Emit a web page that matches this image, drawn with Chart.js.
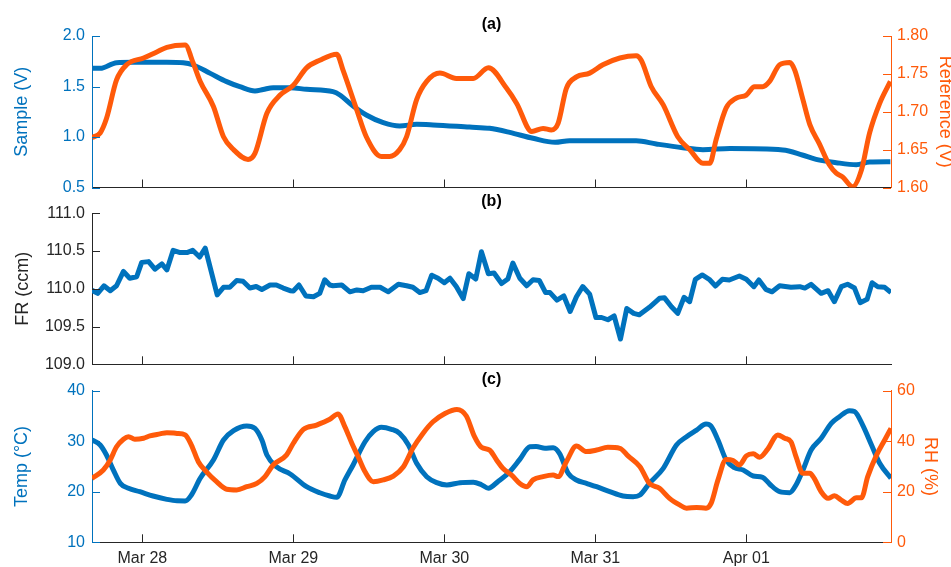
<!DOCTYPE html>
<html>
<head>
<meta charset="utf-8">
<script src="https://cdn.jsdelivr.net/npm/chart.js@4/dist/chart.umd.min.js"></script>
<style>
  html, body { margin: 0; padding: 0; background: #fff; }
  #wrap { position: relative; width: 951px; height: 567px; overflow: hidden; }
  #wrap canvas { position: absolute; left: 0; top: 0; }
</style>
</head>
<body>
<div id="wrap">
  <canvas id="panelA" width="951" height="567"></canvas>
  <canvas id="panelB" width="951" height="567"></canvas>
  <canvas id="panelC" width="951" height="567"></canvas>
</div>
<script>
// Time axis: hours since Mar 28 00:00
const tickHours = [0, 24, 48, 72, 96];
const tickLabels = ['Mar 28', 'Mar 29', 'Mar 30', 'Mar 31', 'Apr 01'];

// (a) sample and reference voltages
const sampleHours = [-8.0, -6.7, -4.1, -1.5, 3.9, 6.5, 8.1, 10.8, 13.4, 15.5, 17.9, 19.2, 20.8, 23.5, 26.1, 30.3, 31.4, 33.5, 35.6, 38.3, 40.9, 43.6, 46.2, 52.0, 55.2, 58.4, 62.1, 65.6, 67.9, 78.5, 81.7, 85.9, 89.1, 93.4, 101.8, 104.9, 107.1, 110.3, 113.5, 115.6, 118.9];
const sampleV = [1.68, 1.68, 1.736, 1.74, 1.74, 1.735, 1.713, 1.63, 1.548, 1.498, 1.455, 1.47, 1.488, 1.488, 1.472, 1.449, 1.416, 1.307, 1.218, 1.142, 1.109, 1.126, 1.12, 1.098, 1.086, 1.046, 0.987, 0.947, 0.963, 0.963, 0.931, 0.894, 0.875, 0.885, 0.871, 0.822, 0.779, 0.746, 0.726, 0.752, 0.755];

const refHours = [-8.0, -6.7, -5.7, -4.1, -2.5, 0.2, 2.3, 3.9, 6.8, 8.1, 9.2, 11.3, 12.9, 14.5, 16.8, 17.9, 19.8, 21.9, 24.0, 26.1, 28.2, 30.9, 31.9, 34.1, 35.6, 38.0, 39.3, 40.9, 42.0, 43.6, 45.2, 47.3, 49.9, 52.6, 55.0, 57.9, 59.5, 61.9, 63.7, 65.0, 66.1, 67.4, 69.0, 71.1, 73.2, 75.9, 78.5, 79.3, 80.9, 82.8, 85.1, 87.0, 89.1, 90.2, 91.2, 92.8, 94.4, 96.0, 97.3, 98.6, 99.7, 101.3, 102.9, 103.7, 105.0, 106.1, 107.6, 109.2, 110.3, 111.3, 112.9, 114.3, 115.6, 117.2, 118.9];
const refV = [1.666, 1.672, 1.691, 1.742, 1.762, 1.771, 1.779, 1.785, 1.788, 1.764, 1.740, 1.707, 1.667, 1.650, 1.637, 1.645, 1.698, 1.722, 1.735, 1.758, 1.768, 1.776, 1.755, 1.702, 1.667, 1.641, 1.641, 1.650, 1.667, 1.716, 1.740, 1.751, 1.744, 1.744, 1.758, 1.731, 1.711, 1.674, 1.678, 1.676, 1.685, 1.731, 1.746, 1.751, 1.762, 1.771, 1.774, 1.768, 1.733, 1.709, 1.667, 1.650, 1.632, 1.632, 1.663, 1.705, 1.718, 1.722, 1.733, 1.733, 1.740, 1.762, 1.765, 1.755, 1.716, 1.683, 1.658, 1.630, 1.619, 1.614, 1.601, 1.623, 1.672, 1.711, 1.740];

// (b) flow rate
const flowHours = [-8.0, -7.1, -6.1, -5.1, -4.1, -3.0, -2.0, -0.9, -0.1, 1.0, 2.0, 3.1, 3.9, 4.9, 6.0, 7.1, 8.0, 9.1, 10.0, 11.9, 12.9, 13.9, 15.0, 16.0, 17.1, 18.1, 19.0, 20.3, 21.3, 22.4, 23.5, 24.0, 24.9, 26.0, 27.2, 28.2, 29.0, 29.8, 30.3, 31.7, 33.0, 34.1, 35.1, 36.4, 37.8, 39.1, 40.7, 42.0, 43.0, 44.1, 45.1, 46.0, 47.0, 48.0, 48.9, 49.9, 51.0, 51.9, 53.0, 53.9, 55.0, 55.9, 57.1, 58.1, 58.9, 60.0, 61.1, 62.1, 63.1, 64.1, 64.8, 65.9, 67.0, 68.0, 69.0, 70.0, 71.1, 72.1, 73.0, 74.0, 75.0, 76.0, 77.0, 78.1, 79.0, 80.6, 82.2, 83.0, 84.1, 85.1, 86.1, 87.0, 87.9, 89.0, 90.1, 91.1, 92.2, 93.3, 94.9, 96.0, 97.2, 98.0, 99.1, 100.1, 101.3, 103.1, 104.5, 105.3, 106.3, 107.9, 109.0, 110.0, 111.1, 112.1, 113.2, 114.1, 115.2, 116.0, 116.9, 118.0, 119.0];
const flowCcm = [109.98, 109.94, 110.04, 109.975, 110.04, 110.23, 110.14, 110.16, 110.35, 110.36, 110.26, 110.33, 110.25, 110.51, 110.48, 110.48, 110.51, 110.42, 110.54, 109.92, 110.02, 110.02, 110.11, 110.10, 110.01, 110.03, 109.99, 110.05, 110.05, 110.01, 109.975, 109.97, 110.05, 109.905, 109.895, 109.94, 110.12, 110.05, 110.04, 110.05, 109.96, 109.985, 109.975, 110.02, 110.02, 109.96, 110.06, 110.04, 110.02, 109.95, 109.975, 110.18, 110.14, 110.08, 110.14, 110.03, 109.87, 110.2, 110.13, 110.49, 110.2, 110.21, 110.07, 110.13, 110.34, 110.14, 110.04, 110.12, 110.11, 109.95, 109.95, 109.85, 109.905, 109.70, 109.895, 110.03, 109.93, 109.62, 109.62, 109.59, 109.64, 109.335, 109.74, 109.675, 109.655, 109.755, 109.874, 109.88, 109.763, 109.675, 109.887, 109.83, 110.126, 110.183, 110.126, 110.037, 110.126, 110.117, 110.17, 110.126, 110.028, 110.117, 109.993, 109.96, 110.04, 110.02, 110.028, 110.01, 110.06, 109.94, 109.975, 109.83, 110.028, 110.06, 110.01, 109.816, 109.86, 110.08, 110.028, 110.02, 109.95];

// (c) temperature and relative humidity
const tempHours = [-8.0, -6.7, -5.7, -4.6, -3.5, -2.2, -0.4, 1.7, 3.9, 5.5, 6.8, 7.8, 9.2, 11.3, 12.9, 14.5, 16.6, 17.9, 19.0, 19.8, 21.3, 23.5, 26.1, 28.2, 29.8, 30.9, 32.2, 33.5, 35.4, 36.7, 38.0, 39.6, 40.9, 42.3, 43.6, 45.2, 46.8, 48.4, 50.5, 52.6, 53.9, 55.0, 56.5, 58.4, 60.0, 61.6, 62.6, 64.0, 65.3, 66.3, 67.7, 69.0, 70.6, 72.2, 74.3, 76.4, 78.0, 79.1, 80.6, 82.8, 84.9, 86.5, 88.1, 89.6, 90.4, 91.5, 92.8, 94.1, 95.5, 97.1, 98.6, 99.7, 101.3, 102.9, 103.9, 105.0, 106.3, 107.9, 109.5, 110.8, 112.4, 113.2, 114.5, 115.9, 117.2, 119.0];
const tempC = [30.25, 29.26, 27.28, 24.3, 21.67, 20.69, 20.02, 19.16, 18.5, 18.2, 18.17, 19.36, 22.67, 26.29, 30.25, 32.09, 33.02, 32.56, 30.25, 27.28, 24.96, 23.52, 21.0, 19.8, 19.16, 18.9, 22.33, 25.3, 29.9, 31.89, 32.76, 32.36, 31.57, 29.26, 25.63, 22.98, 21.8, 21.34, 21.8, 21.9, 21.4, 20.69, 22.0, 23.97, 26.4, 28.9, 28.95, 28.6, 28.7, 27.6, 23.65, 22.33, 21.67, 21.0, 20.02, 19.16, 19.03, 19.36, 21.67, 24.64, 29.26, 30.9, 32.2, 33.4, 33.0, 30.25, 26.29, 24.77, 24.3, 23.12, 22.85, 21.54, 20.02, 19.82, 21.34, 24.3, 28.27, 30.58, 33.55, 34.86, 36.05, 35.9, 33.2, 29.26, 25.63, 22.67];

const rhHours = [-8.0, -6.2, -5.1, -4.1, -3.0, -2.2, -1.2, 0.2, 1.2, 2.8, 3.9, 5.5, 6.8, 7.8, 8.9, 10.2, 11.8, 13.4, 15.0, 16.6, 18.2, 19.5, 20.8, 22.9, 24.0, 25.6, 27.7, 29.8, 31.1, 32.2, 33.3, 34.3, 35.4, 36.7, 38.3, 39.9, 41.5, 43.0, 44.6, 46.2, 48.1, 50.0, 51.5, 52.8, 53.9, 55.2, 56.3, 57.3, 58.7, 60.0, 61.1, 62.1, 63.7, 65.3, 66.1, 67.4, 69.0, 70.6, 72.2, 74.0, 75.9, 77.2, 79.1, 80.6, 82.2, 83.8, 85.4, 86.5, 88.1, 89.6, 90.4, 91.5, 92.8, 93.9, 94.9, 96.0, 97.1, 98.1, 99.4, 101.0, 102.1, 103.1, 103.9, 105.0, 106.1, 106.8, 107.9, 109.0, 110.0, 111.1, 112.1, 113.5, 114.3, 115.3, 116.7, 118.0, 119.0];
const rhPct = [25.3, 28.6, 32.6, 37.8, 40.8, 41.8, 40.8, 41.2, 42.1, 42.9, 43.4, 43.1, 42.5, 38.5, 31.9, 27.9, 24.0, 21.0, 20.7, 22.0, 23.3, 26.0, 30.6, 34.5, 39.2, 44.7, 46.4, 48.7, 50.8, 45.7, 39.2, 33.9, 27.9, 24.0, 24.7, 26.2, 29.9, 37.2, 43.1, 47.7, 51.0, 52.6, 50.0, 41.8, 37.6, 36.5, 32.6, 29.3, 26.6, 23.3, 22.0, 24.7, 26.0, 26.6, 26.0, 31.9, 38.1, 35.9, 36.5, 37.6, 37.2, 34.2, 29.9, 23.3, 21.4, 17.4, 14.8, 13.5, 13.8, 13.5, 15.4, 24.7, 32.8, 32.4, 30.6, 34.2, 35.0, 33.7, 36.9, 42.5, 41.2, 39.8, 33.9, 27.3, 27.3, 25.3, 20.0, 17.4, 18.4, 16.7, 15.4, 17.6, 17.6, 26.0, 34.5, 40.5, 45.1];

// Axis tick values
const sampleTicks = [0.5, 1.0, 1.5, 2.0];
const refTicks = [1.60, 1.65, 1.70, 1.75, 1.80];
const flowTicks = [109.0, 109.5, 110.0, 110.5, 111.0];
const tempTicks = [10, 20, 30, 40];
const rhTicks = [0, 20, 40, 60];

const BLUE = '#0072bd';
const ORANGE = '#ff5a0a';
const INK = '#262626';

Chart.defaults.font.family = "'Liberation Sans', Arial, Helvetica, sans-serif";
Chart.defaults.font.size = 16;
Chart.defaults.animation = false;

const toPoints = (xs, ys) => xs.map((x, i) => ({ x, y: ys[i] }));

// Tick marks drawn inward from every axis line, MATLAB style
const inwardTicks = {
  id: 'inwardTicks',
  afterDatasetsDraw(chart) {
    const { ctx, chartArea: a } = chart;
    const len = 8;
    ctx.save();
    ctx.lineWidth = 1;
    for (const s of Object.values(chart.scales)) {
      ctx.strokeStyle = s.options.border.color;
      ctx.beginPath();
      for (const t of s.ticks) {
        const p = Math.round(s.getPixelForValue(t.value)) + 0.5;
        if (s.isHorizontal()) {
          ctx.moveTo(p, a.bottom); ctx.lineTo(p, a.bottom - len);
        } else if (s.position === 'left') {
          ctx.moveTo(a.left, p); ctx.lineTo(a.left + len, p);
        } else {
          ctx.moveTo(a.right, p); ctx.lineTo(a.right - len, p);
        }
      }
      ctx.stroke();
    }
    ctx.restore();
  }
};

// Panel letter centred above the plot area
const panelLabel = {
  id: 'panelLabel',
  afterDraw(chart, args, opts) {
    const { ctx, chartArea: a } = chart;
    ctx.save();
    ctx.font = "bold 16px 'Liberation Sans', Arial, sans-serif";
    ctx.fillStyle = '#000';
    ctx.textAlign = 'center';
    ctx.textBaseline = 'middle';
    ctx.fillText(opts.text, (a.left + a.right) / 2, a.top - opts.gap);
    ctx.restore();
  }
};

function timeAxis(showLabels, height) {
  return {
    type: 'linear',
    min: -8,
    max: 119,
    afterBuildTicks: s => { s.ticks = tickHours.map(v => ({ value: v })); },
    afterFit: s => { s.height = height; },
    ticks: {
      display: showLabels,
      autoSkip: false,
      maxRotation: 0,
      padding: 7,
      color: INK,
      callback: (v, i) => tickLabels[i]
    },
    grid: { display: false, drawTicks: false },
    border: { display: true, color: INK, width: 1 }
  };
}

function valueAxis(position, min, max, ticks, digits, color, title, titlePad, width) {
  return {
    type: 'linear',
    position,
    min,
    max,
    afterBuildTicks: s => { s.ticks = ticks.map(v => ({ value: v })); },
    afterFit: s => { s.width = width; },
    ticks: {
      color,
      padding: position === 'left' ? 7 : 6,
      callback: v => Number(v).toFixed(digits)
    },
    grid: { display: false, drawTicks: false },
    border: { display: true, color, width: 1 },
    title: {
      display: true,
      text: title,
      color,
      font: { size: 18 },
      padding: { top: titlePad, bottom: 0 }
    }
  };
}

function lineSet(points, color, axis, order, tension) {
  return {
    data: points,
    yAxisID: axis,
    borderColor: color,
    backgroundColor: color,
    borderWidth: 5,
    pointRadius: 0,
    fill: false,
    order,
    tension,
    cubicInterpolationMode: tension ? 'monotone' : 'default',
    borderJoinStyle: 'round'
  };
}

const common = {
  responsive: false,
  devicePixelRatio: 1,
  animation: false,
  parsing: true,
  plugins: { legend: { display: false }, tooltip: { enabled: false } }
};

// (a) Sample / Reference voltages
new Chart(document.getElementById('panelA'), {
  type: 'line',
  data: {
    datasets: [
      lineSet(toPoints(sampleHours, sampleV), BLUE, 'y', 1, 0.4),
      lineSet(toPoints(refHours, refV), ORANGE, 'y2', 0, 0.4)
    ]
  },
  options: Object.assign({}, common, {
    layout: { padding: { top: 36, bottom: 379.5, left: 0, right: 0 } },
    scales: {
      x: timeAxis(false, 0),
      y: valueAxis('left', 0.5, 2.0, sampleTicks, 1, BLUE, 'Sample (V)', 11, 92),
      y2: valueAxis('right', 1.6, 1.8, refTicks, 2, ORANGE, 'Reference (V)', -5, 60)
    },
    plugins: Object.assign({}, common.plugins, { panelLabel: { text: '(a)', gap: 11 } })
  }),
  plugins: [inwardTicks, panelLabel]
});

// (b) Flow rate
new Chart(document.getElementById('panelB'), {
  type: 'line',
  data: {
    datasets: [
      lineSet(toPoints(flowHours, flowCcm), BLUE, 'y', 0, 0)
    ]
  },
  options: Object.assign({}, common, {
    layout: { padding: { top: 213.3, bottom: 202.7, left: 0, right: 60 } },
    scales: {
      x: timeAxis(false, 0),
      y: valueAxis('left', 109, 111, flowTicks, 1, INK, 'FR (ccm)', 12, 92)
    },
    plugins: Object.assign({}, common.plugins, { panelLabel: { text: '(b)', gap: 12 } })
  }),
  plugins: [inwardTicks, panelLabel]
});

// (c) Temperature / relative humidity
new Chart(document.getElementById('panelC'), {
  type: 'line',
  data: {
    datasets: [
      lineSet(toPoints(tempHours, tempC), BLUE, 'y', 1, 0.4),
      lineSet(toPoints(rhHours, rhPct), ORANGE, 'y2', 0, 0.4)
    ]
  },
  options: Object.assign({}, common, {
    layout: { padding: { top: 390.7, bottom: 0, left: 0, right: 0 } },
    scales: {
      x: timeAxis(true, 24.7),
      y: valueAxis('left', 10, 40, tempTicks, 0, BLUE, 'Temp (°C)', 11, 92),
      y2: valueAxis('right', 0, 60, rhTicks, 0, ORANGE, 'RH (%)', 10, 60)
    },
    plugins: Object.assign({}, common.plugins, { panelLabel: { text: '(c)', gap: 11 } })
  }),
  plugins: [inwardTicks, panelLabel]
});
</script>
</body>
</html>
